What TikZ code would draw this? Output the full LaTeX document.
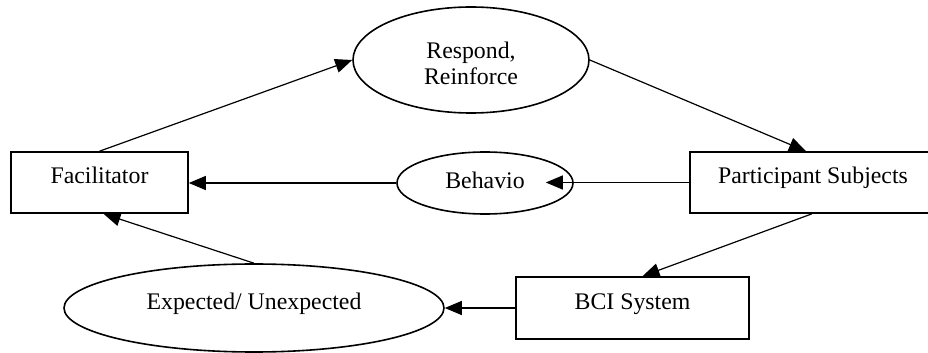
\documentclass[tikz,border=0pt]{standalone}
\usepackage{fontspec}
\setmainfont{Liberation Serif}
\usetikzlibrary{shapes.geometric,arrows.meta,calc}
\begin{document}
\begin{tikzpicture}[x=0.5pt,y=-0.5pt,
  every node/.style={font=\fontsize{11.9pt}{13pt}\selectfont, inner sep=0pt},
  box/.style={draw, line width=0.8pt, rectangle, text height=9pt, text depth=8pt},
  oval/.style={draw, line width=0.8pt, ellipse, align=center},
  link/.style={line width=0.6pt, -{Triangle[length=8.5pt,width=7pt]}}]
\useasboundingbox (0,0) rectangle (928,353);
\clip (0,0) rectangle (928,353);

% boxes
\node[box, minimum width=88.5pt, minimum height=30.5pt] (fac) at (99.5,182.5) {Facilitator};
\node[box, minimum width=123pt, minimum height=30.5pt] (part) at (813,182.5) {Participant Subjects};
\node[box, minimum width=116.5pt, minimum height=31pt] (bci) at (632.5,308) {BCI System};

% ovals (the strut lowers the two-line label a little)
\node[oval, minimum width=118pt, minimum height=53pt] (resp) at (471,60) {\rule{0pt}{11.5pt}Respond,\\Reinforce};
\node[oval, minimum width=88pt, minimum height=31pt, text height=9pt, text depth=3pt] (beh) at (485,183) {Behavio};
\node[oval, minimum width=190pt, minimum height=44pt, text height=9pt, text depth=7pt] (exp) at (254,308) {Expected/ Unexpected};

% connectors
\draw[link] (fac.north) -- (resp.west);
\draw[link] (resp.east) -- ($(part.north)+(-7,0)$);
\draw[link, shorten >=-14pt] (part.west) -- (part.west -| beh.east);
\draw[link] (beh.west) -- (beh.west -| fac.east);
\draw[link] ($(part.south)+(-1,0)$) -- ($(bci.north)+(10,0)$);
\draw[link] (bci.west) -- (exp.east);
\draw[link] (exp.north) -- ($(fac.south)+(4,0)$);
\end{tikzpicture}
\end{document}
